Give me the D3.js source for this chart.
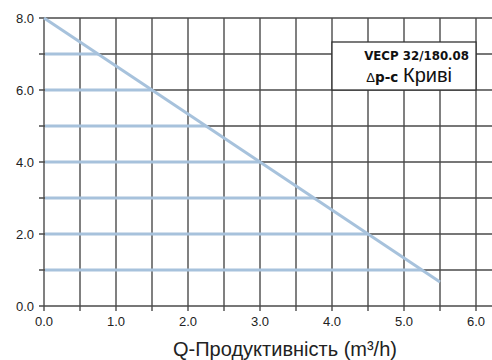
<!DOCTYPE html>
<html>
<head>
<meta charset="utf-8">
<script src="https://cdn.jsdelivr.net/npm/d3@7"></script>
<style>
body { margin: 0; background: #fff; }
svg { display: block; font-family: "Liberation Sans", Arial, sans-serif; }
.grid line { stroke: #4a4a4a; stroke-width: 1.4; }
.curve { stroke: #a7c2dc; stroke-width: 3; fill: none; }
</style>
</head>
<body>
<svg id="chart"></svg>
<script>
// data
const curveQ = [0.0, 5.5]
const curveH = [8.0, 0.667]
const headLevels = [1, 2, 3, 4, 5, 6, 7]
const xTicks = [0, 1, 2, 3, 4, 5, 6]
const yTicks = [0, 2, 4, 6, 8]
const title1 = 'VECP 32/180.08'
const xLabel = 'Q-Продуктивність (m³/h)'

const W = 492, H = 360
const margin = { top: 18, left: 44, right: 16, bottom: 54 }

const x = d3.scaleLinear().domain([0, 6]).range([margin.left, margin.left + 432])
const y = d3.scaleLinear().domain([0, 8]).range([H - margin.bottom, margin.top])

const svg = d3.select('#chart').attr('width', W).attr('height', H)

// grid
const grid = svg.append('g').attr('class', 'grid')
grid.selectAll('.v')
    .data(d3.range(0, 6.01, 0.5))
    .enter().append('line')
    .attr('x1', d => x(d)).attr('x2', d => x(d))
    .attr('y1', y(8)).attr('y2', y(0) + 5)
grid.selectAll('.h')
    .data(d3.range(0, 9))
    .enter().append('line')
    .attr('x1', x(0) - 5).attr('x2', W)
    .attr('y1', d => y(d)).attr('y2', d => y(d))

// curve line in Q-H
const slope = (curveH[1] - curveH[0]) / (curveQ[1] - curveQ[0])
const qAt = h => curveQ[0] + (h - curveH[0]) / slope

svg.selectAll('.lvl')
    .data(headLevels)
    .enter().append('line')
    .attr('class', 'curve')
    .attr('x1', x(0) + 1).attr('x2', d => x(qAt(d)))
    .attr('y1', d => y(d)).attr('y2', d => y(d))

svg.append('path')
    .attr('class', 'curve')
    .attr('d', d3.line().x(d => x(d[0])).y(d => y(d[1]))(d3.zip(curveQ, curveH)))

// axis labels
svg.selectAll('.xt')
    .data(xTicks)
    .enter().append('text')
    .attr('x', d => x(d)).attr('y', y(0) + 20)
    .attr('text-anchor', 'middle')
    .style('font-size', '13px').style('fill', '#222')
    .text(d => d.toFixed(1))

svg.selectAll('.yt')
    .data(yTicks)
    .enter().append('text')
    .attr('x', x(0) - 10).attr('y', d => y(d) + 5)
    .attr('text-anchor', 'end')
    .style('font-size', '13px').style('fill', '#222')
    .text(d => d.toFixed(1))

svg.append('text')
    .attr('x', 285).attr('y', 356)
    .attr('text-anchor', 'middle')
    .style('font-size', '20px').style('fill', '#222')
    .text(xLabel)

// legend box
const box = svg.append('g').attr('transform', `translate(${x(4)}, ${y(6) - 48})`)
box.append('rect')
   .attr('width', x(6) - x(4)).attr('height', 48)
   .attr('fill', '#fff').attr('stroke', '#333').attr('stroke-width', 1.3)
box.append('text')
   .attr('x', 137).attr('y', 18)
   .attr('text-anchor', 'end')
   .style('font-family', '"DejaVu Sans", sans-serif')
   .style('font-size', '11.8px').style('font-weight', 'bold').style('fill', '#111')
   .text(title1)
const t2 = box.append('text')
   .attr('x', 120).attr('y', 40)
   .attr('text-anchor', 'end')
   .style('fill', '#111')
t2.append('tspan').style('font-size', '13px').text('Δ')
t2.append('tspan').style('font-family', '"DejaVu Sans", sans-serif')
  .style('font-size', '13.5px').style('font-weight', 'bold').text('p-c ')
t2.append('tspan').style('font-size', '20px').text('Криві')
</script>
</body>
</html>
